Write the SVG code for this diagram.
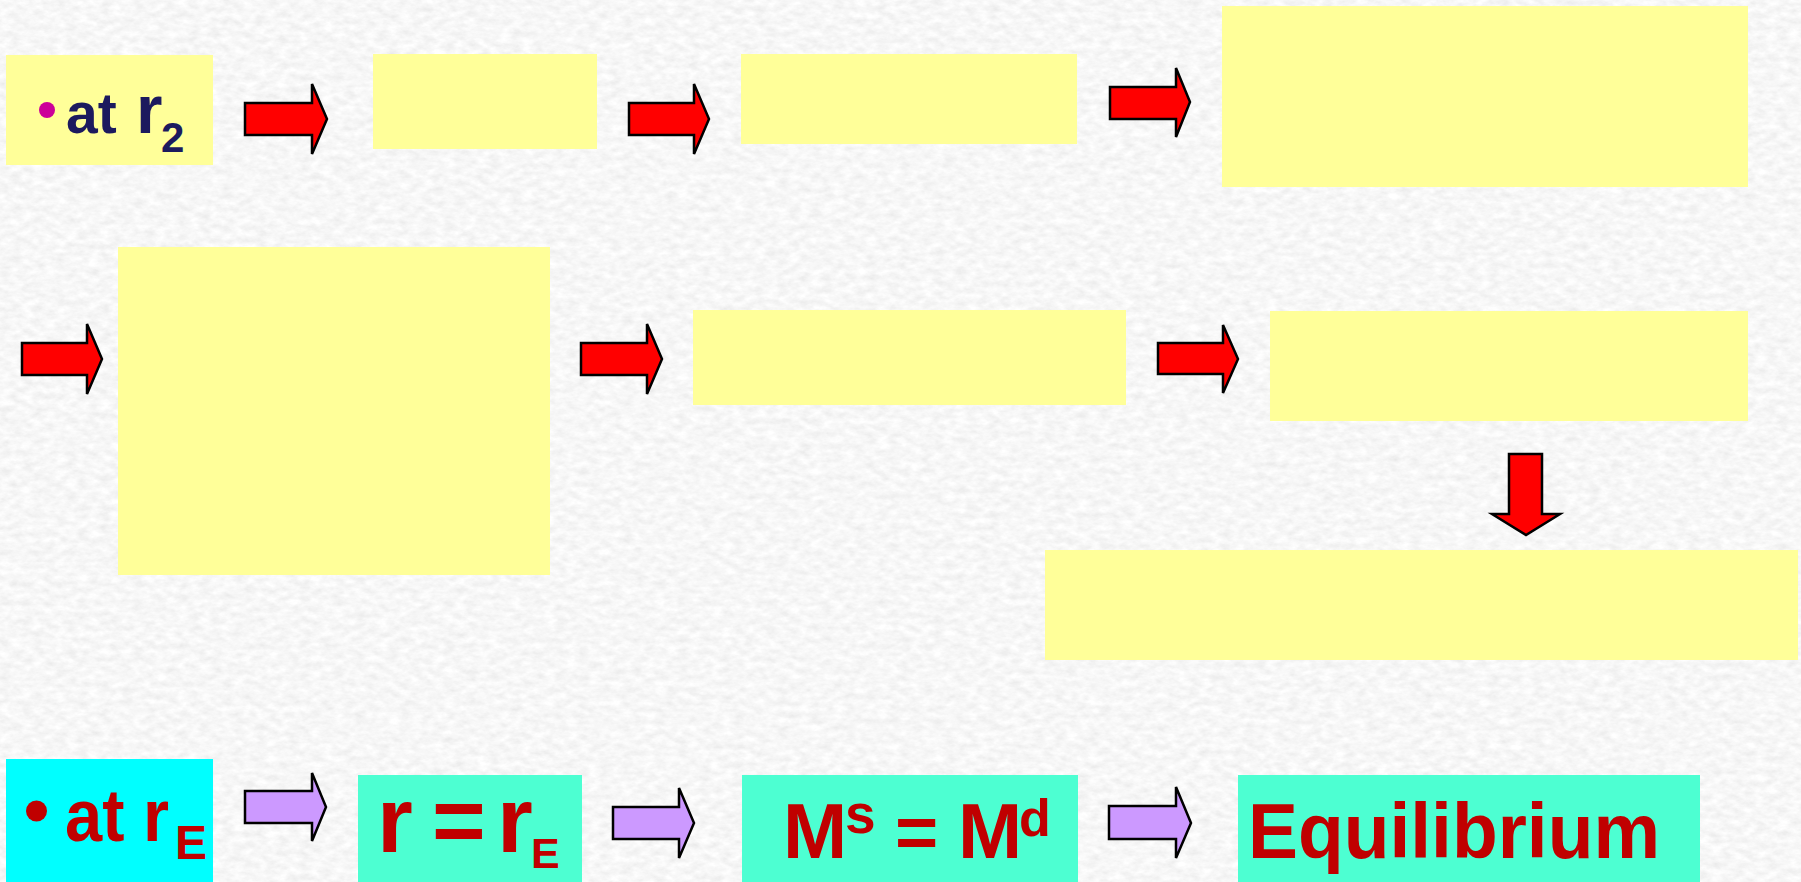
<svg xmlns="http://www.w3.org/2000/svg" width="1801" height="882" viewBox="0 0 1801 882">
<style>
.y{fill:#FFFF99}
.c{fill:#00FFFF}
.q{fill:#4DFFD2}
.ra{fill:#FF0000;stroke:#000;stroke-width:2.5;stroke-linejoin:miter}
.pa{fill:#CC99FF;stroke:#000;stroke-width:2.5;stroke-linejoin:miter}
.t{font-family:"Liberation Sans",Arial,sans-serif;font-weight:bold}
.n{fill:#1C1A5E}
.r{fill:#C00000}
</style>
<defs>
<filter id="paper" x="0" y="0" width="100%" height="100%">
<feTurbulence type="fractalNoise" baseFrequency="0.09 0.16" numOctaves="4" seed="7"/>
<feColorMatrix type="matrix" values="0.24 0 0 0 0.81  0.24 0 0 0 0.81  0.24 0 0 0 0.81  0 0 0 0 1"/>
</filter>
</defs>
<rect x="0" y="0" width="1801" height="882" fill="#EAEAEA"/>
<rect x="0" y="0" width="1801" height="882" filter="url(#paper)"/>

<g id="n1"><rect class="y" x="6" y="55" width="207" height="110"/>
<circle cx="47" cy="110" r="8" fill="#CC0099"/>
<text class="t n" x="66" y="133" font-size="57">at</text>
<text class="t n" x="136" y="133" font-size="68">r</text>
<text class="t n" x="161" y="152" font-size="42">2</text></g>
<g id="n2"><rect class="y" x="373" y="54" width="224" height="95"/></g>
<g id="n3"><rect class="y" x="741" y="54" width="336" height="90"/></g>
<g id="n4"><rect class="y" x="1222" y="6" width="526" height="181"/></g>
<g id="n5"><rect class="y" x="118" y="247" width="432" height="328"/></g>
<g id="n6"><rect class="y" x="693" y="310" width="433" height="95"/></g>
<g id="n7"><rect class="y" x="1270" y="311" width="478" height="110"/></g>
<g id="n8"><rect class="y" x="1045" y="550" width="753" height="110"/></g>

<g id="n9"><rect class="c" x="6" y="759" width="207" height="123"/>
<circle cx="36.5" cy="811" r="10.5" fill="#C00000"/>
<text class="t r" x="65" y="841" font-size="74" textLength="104" lengthAdjust="spacingAndGlyphs">at r</text>
<text class="t r" x="175" y="859" font-size="48">E</text></g>
<g id="n10"><rect class="q" x="358" y="775" width="224" height="107"/>
<text class="t r" y="852" font-size="92"><tspan x="377">r</tspan><tspan x="432">=</tspan><tspan x="497">r</tspan></text>
<text class="t r" x="531" y="868" font-size="43">E</text></g>
<g id="n11"><rect class="q" x="742" y="775" width="336" height="107"/>
<text class="t r" x="783" y="858" font-size="77">M</text>
<text class="t r" x="845" y="833" font-size="55">s</text>
<text class="t r" x="895" y="858" font-size="74">=</text>
<text class="t r" x="958" y="858" font-size="77">M</text>
<text class="t r" x="1019" y="836" font-size="52">d</text></g>
<g id="n12"><rect class="q" x="1238" y="775" width="462" height="107"/>
<text class="t r" x="1248" y="858" font-size="77" textLength="412" lengthAdjust="spacingAndGlyphs">Equilibrium</text></g>

<g id="connectors">
<polygon class="ra" points="245,103 312,103 312,84 327,119 312,154 312,135 245,135"/>
<polygon class="ra" points="629,103 694,103 694,84 709,119 694,154 694,135 629,135"/>
<polygon class="ra" points="1110,87 1176,87 1176,68 1190,102 1176,137 1176,119 1110,119"/>
<polygon class="ra" points="22,343 87,343 87,324 102,359 87,394 87,375 22,375"/>
<polygon class="ra" points="581,343 647,343 647,324 662,359 647,394 647,375 581,375"/>
<polygon class="ra" points="1158,343 1223,343 1223,325 1238,359 1223,393 1223,374 1158,374"/>
<polygon class="ra" points="1509,454 1542,454 1542,514 1560,514 1526,535 1492,514 1509,514"/>
<polygon class="pa" points="245,791 312,791 312,773 326,807 312,841 312,823 245,823"/>
<polygon class="pa" points="613,807 679,807 679,788 694,823 679,858 679,839 613,839"/>
<polygon class="pa" points="1109,806 1176,806 1176,787 1191,823 1176,858 1176,839 1109,839"/>
</g>
</svg>
